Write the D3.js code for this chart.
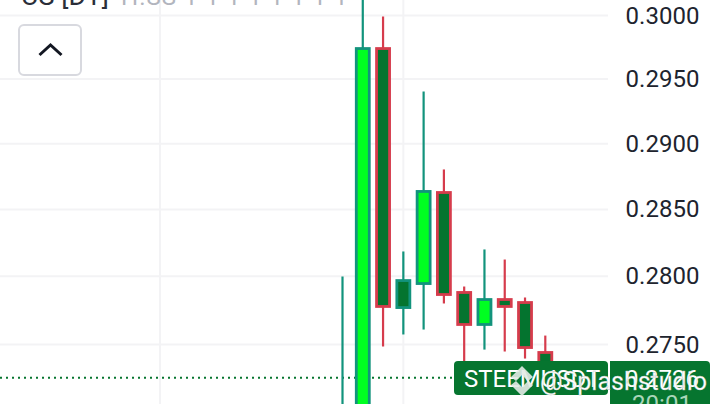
<!DOCTYPE html>
<html><head><meta charset="utf-8">
<script src="https://cdn.jsdelivr.net/npm/d3@7/dist/d3.min.js"></script>
<style>html,body{margin:0;padding:0;background:#fff;overflow:hidden}svg{display:block}text{font-family:Roboto,sans-serif}</style>
</head><body><svg id="c" width="720" height="404"></svg>
<script>
const slots = [0,1,2,3,4,5,6,7,8,9,10];
const opens  = [0.2685,0.2695,0.29739,0.27770,0.27947,0.28628,0.27881,0.27646,0.27829,0.27807,0.27442];
const highs  = [0.27999,0.3020,0.29992,0.28185,0.29403,0.28803,0.27925,0.28200,0.28125,0.27844,0.27565];
const lows   = [0.2680,0.2690,0.27485,0.27573,0.27609,0.27800,0.27348,0.27463,0.27449,0.27398,0.27254];
const closes = [0.2695,0.29739,0.27778,0.27969,0.28636,0.27866,0.27646,0.27829,0.27778,0.27478,0.27254];
const darkBody = [false,false,true,true,false,true,true,false,true,true,true];
const priceTicks = [0.3000,0.2950,0.2900,0.2850,0.2800,0.2750];
const lastPrice = 0.2726;
const verticalGridSlots = [-9, 3];
const symbolLabel = "STEEMUSDT", priceLabel = "0.2726", countdownLabel = "20:01", watermark = "@Splashstudio";
const headerName = "US [DT]", headerValues = "H.SS 1 1 1 1 1 1 1 1";

const svg = d3.select("#c");
const y = d3.scaleLog().domain([0.3, 0.275]).range([15.5, 344.5]);
const x = d3.scaleLinear().domain([0, 10]).range([342.5, 545.3]);
const plotR = 608;
const TEAL="#12937c", RED="#d63c4c", BRIGHT="#00ff21", DARK="#04742f", LABEL="#06752f";

// grid
svg.append("g").selectAll("line").data(priceTicks).join("line")
  .attr("x1",0).attr("x2",plotR).attr("y1",d=>y(d)).attr("y2",d=>y(d))
  .attr("stroke","#f3f3f5").attr("stroke-width",2);
svg.append("g").selectAll("line").data(verticalGridSlots).join("line")
  .attr("x1",d=>x(d)).attr("x2",d=>x(d)).attr("y1",0).attr("y2",404)
  .attr("stroke","#f3f3f5").attr("stroke-width",2);

// header (clipped by the top of the picture)
const hdr = svg.append("text").attr("x",21).attr("y",5).attr("font-size",27);
hdr.append("tspan").attr("fill","#2a2e39").text(headerName);
hdr.append("tspan").attr("dx",12).attr("fill","#b2b5be").attr("font-size",24).attr("letter-spacing",1).text(headerValues);

// collapse button
svg.append("rect").attr("x",19).attr("y",25).attr("width",62).attr("height",50).attr("rx",5)
  .attr("fill","#fff").attr("stroke","#d8d9df").attr("stroke-width",2);
svg.append("path").attr("d","M39.5 55 L50.5 45 L61.5 55").attr("fill","none").attr("stroke","#131722").attr("stroke-width",3);

// last price line
svg.append("line").attr("x1",0).attr("x2",454).attr("y1",y(lastPrice)).attr("y2",y(lastPrice))
  .attr("stroke",LABEL).attr("stroke-width",2).attr("stroke-dasharray","2 4");

// candles
const g = svg.append("g").selectAll("g").data(slots).join("g");
const up = i => closes[i] >= opens[i];
g.append("line").attr("x1",i=>x(i)).attr("x2",i=>x(i))
  .attr("y1",i=>y(highs[i])).attr("y2",i=>y(lows[i]))
  .attr("stroke",i=>up(i)?TEAL:RED).attr("stroke-width",2.2);
g.append("rect").attr("x",i=>x(i)-6.5).attr("width",13)
  .attr("y",i=>y(Math.max(opens[i],closes[i])))
  .attr("height",i=>Math.abs(y(opens[i])-y(closes[i])))
  .attr("fill",i=>darkBody[i]?DARK:BRIGHT)
  .attr("stroke",i=>up(i)?TEAL:RED).attr("stroke-width",2.8);

// price axis
svg.append("g").selectAll("text").data(priceTicks).join("text")
  .attr("x",662.5).attr("y",d=>y(d)+8).attr("text-anchor","middle")
  .attr("font-size",24).attr("fill","#20242e").text(d=>d3.format(".4f")(d));

// labels
svg.append("rect").attr("x",454).attr("y",361).attr("width",154).attr("height",34).attr("rx",4).attr("fill",LABEL);
svg.append("text").attr("x",464).attr("y",387).attr("font-size",24).attr("fill","#fff").text(symbolLabel);
svg.append("path").attr("d","M610 361 H706 Q710 361 710 365 V404 H610 Z").attr("fill",LABEL);
svg.append("text").attr("x",662).attr("y",387).attr("text-anchor","middle").attr("font-size",24).attr("fill","#fff").text(priceLabel);
svg.append("text").attr("x",662).attr("y",412).attr("text-anchor","middle").attr("font-size",24).attr("fill","#a9d6b9").text(countdownLabel);

// watermark
const wm = svg.append("g").attr("transform","translate(522,381)").attr("opacity",0.9);
wm.append("path").attr("d","M0 -15 L11 -4 L6 0 L0 -6 L-6 0 L-11 -4 Z M-11 4 L-6 0 L0 6 L6 0 L11 4 L0 15 Z").attr("fill","#e3eae5");
svg.append("text").attr("x",540).attr("y",390).attr("font-size",25).attr("fill","#fff")
  .attr("stroke","#b5bdb8").attr("stroke-width",0.3).text(watermark);
</script></body></html>
